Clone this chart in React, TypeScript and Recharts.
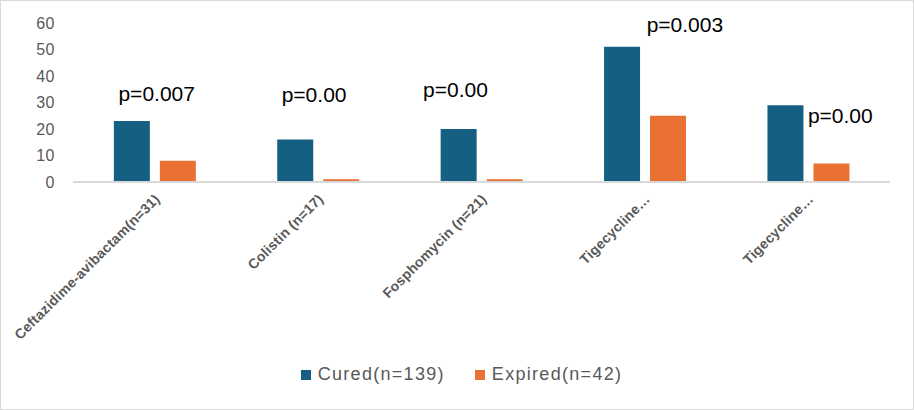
import { Bar, BarChart, Legend, ReferenceDot, XAxis, YAxis } from "recharts";

const drugs = [
  "Ceftazidime-avibactam(n=31)",
  "Colistin (n=17)",
  "Fosphomycin (n=21)",
  "Tigecycline…",
  "Tigecycline…",
];
const cured = [23, 16, 20, 51, 29];
const expired = [8, 1, 1, 25, 7];
const pValues = ["p=0.007", "p=0.00", "p=0.00", "p=0.003", "p=0.00"];
// where each p-value note sits, in axis units
const pLevel = [30.5, 30.2, 32.2, 56.5, 22.3];
const yTicks = [0, 10, 20, 30, 40, 50, 60];

const BLUE = "#156082";
const ORANGE = "#E97132";
const GREY = "#595959";
const FONT = "'Liberation Sans', Arial, sans-serif";

// horizontal nudges for the p-value notes (px, from group centre)
const pNudge = [2, -4, -26, 40, 32];

const rows = drugs.map((d, i) => ({ key: `${i}`, name: d, cured: cured[i], expired: expired[i] }));

function DrugTick({ x, y, payload }: any) {
  const i = Number(payload.value);
  return (
    <g transform={`translate(${x + 6},${y + 10})`}>
      <text
        transform="rotate(-45)"
        textAnchor="end"
        fill={GREY}
        fontSize={14}
        fontWeight="bold"
        letterSpacing={0.2}
        fontFamily={FONT}
      >
        {drugs[i]}
      </text>
    </g>
  );
}

function LegendBox({ payload }: any) {
  return (
    <div style={{ display: "flex", justifyContent: "center", gap: 30, marginLeft: 32, fontFamily: FONT, fontSize: 18, letterSpacing: 1.3, color: GREY }}>
      {payload.map((p: any) => (
        <div key={p.value} style={{ display: "flex", alignItems: "center" }}>
          <span style={{ width: 10, height: 10, background: p.color, marginRight: 7, display: "inline-block" }} />
          <span>{p.value}</span>
        </div>
      ))}
    </div>
  );
}

export default function App() {
  return (
    <div style={{ position: "fixed", left: 0, top: 0, width: 914, height: 410, background: "#fff", boxSizing: "border-box", border: "1px solid #d9d9d9" }}>
      <BarChart
        width={912}
        height={408}
        data={rows}
        margin={{ top: 22, right: 23, left: 0, bottom: 12 }}
        barCategoryGap="25%"
        barGap={10}
      >
        <XAxis
          dataKey="key"
          height={182}
          tickLine={false}
          axisLine={{ stroke: "#d9d9d9", strokeWidth: 2 }}
          tick={<DrugTick />}
          interval={0}
        />
        <YAxis
          width={72}
          domain={[0, 60]}
          ticks={yTicks}
          axisLine={false}
          tickLine={false}
          tickMargin={12}
          tick={{ fill: GREY, fontSize: 16, letterSpacing: 0.5, fontFamily: FONT }}
        />
        <Legend verticalAlign="bottom" height={33} content={<LegendBox />} />
        <Bar dataKey="cured" name="Cured(n=139)" fill={BLUE} isAnimationActive={false} />
        <Bar dataKey="expired" name="Expired(n=42)" fill={ORANGE} isAnimationActive={false} />
        {pValues.map((p, i) => (
          <ReferenceDot
            key={i}
            x={`${i}`}
            y={pLevel[i]}
            r={0}
            stroke="none"
            label={(props: any) => (
              <text
                x={props.viewBox.x + pNudge[i]}
                y={props.viewBox.y}
                textAnchor="middle"
                fill="#000"
                fontSize={21}
                fontFamily={FONT}
              >
                {p}
              </text>
            )}
          />
        ))}
      </BarChart>
    </div>
  );
}
